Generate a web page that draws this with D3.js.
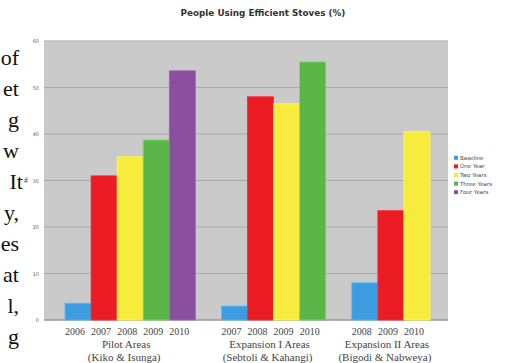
<!DOCTYPE html>
<html><head><meta charset="utf-8">
<script src="https://cdn.jsdelivr.net/npm/d3@7"></script>
<style>body{margin:0;background:#fff}svg{display:block}</style>
</head><body>
<svg id="c" width="509" height="363"></svg>
<script>
const seriesNames = ["Baseline","One Year","Two Years","Three Years","Four Years"];
const seriesColors = ["#3d9be0","#ec1c24","#f7ec3c","#5bb548","#8a4f9e"];
const groups = ["Pilot Areas","Expansion I Areas","Expansion II Areas"];
const groupSub = ["(Kiko & Isunga)","(Sebtoli & Kahangi)","(Bigodi & Nabweya)"];
const pilotYears = ["2006","2007","2008","2009","2010"];
const pilotValues = [3.6, 31.0, 35.1, 38.7, 53.6];
const exp1Years = ["2007","2008","2009","2010"];
const exp1Values = [3.0, 48.0, 46.5, 55.5];
const exp2Years = ["2008","2009","2010"];
const exp2Values = [8.0, 23.5, 40.5];
const yTicks = [0,10,20,30,40,50,60];
const sideText = ["of","et","g","w","It","y,","es","at","l,","g"];
const titleText = "People Using Efficient Stoves (%)";

const svg = d3.select("#c");
const plot = {left:44, right:448, top:41, bottom:320};
const y = d3.scaleLinear().domain([0,60]).range([plot.bottom, plot.top]);

const groupData = [[pilotYears,pilotValues],[exp1Years,exp1Values],[exp2Years,exp2Values]];
const slots = [];
const bars = [];
groupData.forEach(([yrs,vals],gi)=>{
  if(gi>0) slots.push("gap"+gi);
  yrs.forEach((yr,i)=>{
    const key = gi+"-"+i;
    slots.push(key);
    bars.push({key, g:gi, s:i, year:yr, v:vals[i]});
  });
});
const x = d3.scaleBand().domain(slots).range([65,430]).padding(0);

// left page text fragments
svg.append("g").selectAll("text").data(sideText).join("text")
  .attr("x",(d,i)=> d==="It"?23:19).attr("y",(d,i)=>65+i*31)
  .attr("text-anchor","end")
  .style("font-family","'Liberation Serif','Times New Roman',serif")
  .style("font-size","22px").attr("fill","#111").text(d=>d);

// title
svg.append("text").attr("x",263).attr("y",16).attr("text-anchor","middle")
  .style("font-family","'DejaVu Sans',Verdana,sans-serif").style("font-weight","bold")
  .style("font-size","8.8px").attr("fill","#333").text(titleText);

// plot background
svg.append("rect").attr("x",plot.left).attr("y",plot.top)
  .attr("width",plot.right-plot.left).attr("height",plot.bottom-plot.top).attr("fill","#cacaca");

// grid
svg.append("g").selectAll("line").data(yTicks).join("line")
  .attr("x1",plot.left).attr("x2",plot.right)
  .attr("y1",d=>y(d)).attr("y2",d=>y(d))
  .attr("stroke",d=>d===0?"#9a9a9a":"#a9a9a9").attr("stroke-width",d=>d===0?1.5:1.2);

// y axis labels
const yAxis = d3.axisLeft(y).tickValues(yTicks).tickSize(0).tickPadding(5);
const ya = svg.append("g").attr("transform",`translate(${plot.left},0)`).call(yAxis);
ya.select(".domain").remove();
ya.selectAll("text").style("font-family","'DejaVu Sans',sans-serif").style("font-size","5px").attr("fill","#666");

// y title glyph
svg.append("text").attr("x",24).attr("y",183).style("font-family","'Liberation Serif',serif")
  .style("font-size","8px").attr("fill","#444").text("#");

// bars
svg.append("g").selectAll("rect").data(bars).join("rect")
  .attr("x",d=>x(d.key)).attr("width",x.bandwidth())
  .attr("y",d=>y(d.v)).attr("height",d=>y(0)-y(d.v))
  .attr("fill",d=>seriesColors[d.s])
  .attr("stroke",d=>d3.color(seriesColors[d.s]).brighter(0.6)).attr("stroke-width",0.8);

// x labels
const serif = "'Liberation Serif','Times New Roman',serif";
svg.append("g").selectAll("text").data(bars).join("text")
  .attr("x",d=>x(d.key)+x.bandwidth()/2 - 3).attr("y",335)
  .attr("text-anchor","middle").style("font-family",serif).style("font-size","10px")
  .attr("fill","#444").text(d=>d.year);

const groupCenter = gi => {
  const b = bars.filter(d=>d.g===gi);
  return (x(b[0].key) + x(b[b.length-1].key)+x.bandwidth())/2;
};
svg.append("g").selectAll("text").data(groups).join("text")
  .attr("x",(d,i)=>groupCenter(i)-4).attr("y",348)
  .attr("text-anchor","middle").style("font-family",serif).style("font-size","11px")
  .attr("fill","#444").text(d=>d);
svg.append("g").selectAll("text").data(groupSub).join("text")
  .attr("x",(d,i)=>groupCenter(i)-6).attr("y",361)
  .attr("text-anchor","middle").style("font-family",serif).style("font-size","11px")
  .attr("fill","#444").text(d=>d);

// legend
const lg = svg.append("g").attr("transform","translate(454,158)");
const li = lg.selectAll("g").data(seriesNames).join("g")
  .attr("transform",(d,i)=>`translate(0,${i*8.6})`);
li.append("rect").attr("x",0).attr("y",-2.2).attr("width",4).attr("height",4)
  .attr("fill",(d,i)=>seriesColors[i]);
li.append("text").attr("x",6).attr("y",1.8).style("font-family","'DejaVu Sans',sans-serif")
  .style("font-size","5.5px").attr("fill","#444").text(d=>d);
</script>
</body></html>
